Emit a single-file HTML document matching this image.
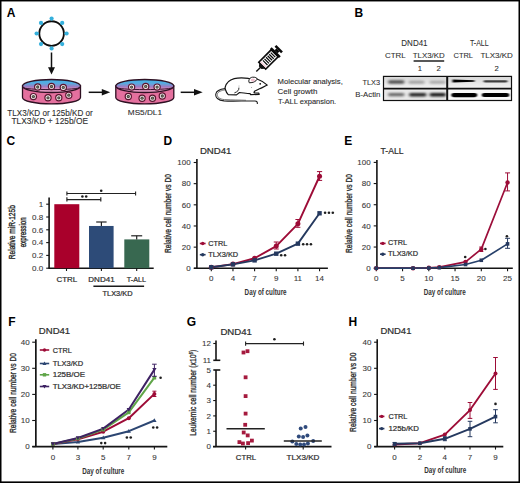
<!DOCTYPE html><html><head><meta charset="utf-8"><style>html,body{margin:0;padding:0;background:#fff;}svg{display:block;}text{font-family:"Liberation Sans", sans-serif;}</style></head><body>
<svg width="520" height="483" viewBox="0 0 520 483">
<defs><linearGradient id="lid" x1="0" y1="0" x2="0" y2="1"><stop offset="0" stop-color="#3fb2e6"/><stop offset="0.3" stop-color="#58abe0"/><stop offset="0.55" stop-color="#a07cc2"/><stop offset="0.72" stop-color="#d98cbb"/><stop offset="1" stop-color="#eaa0c4"/></linearGradient><linearGradient id="blot1" x1="0" y1="0" x2="0" y2="1"><stop offset="0" stop-color="#d8d8d8"/><stop offset="1" stop-color="#f2f2f2"/></linearGradient><filter id="bl" x="-20%" y="-100%" width="140%" height="300%"><feGaussianBlur stdDeviation="0.9 0.7"/></filter><filter id="bl2" x="-30%" y="-150%" width="160%" height="400%"><feGaussianBlur stdDeviation="1.6 1.0"/></filter></defs>
<rect x="0" y="0" width="520" height="483" fill="#fff"/>
<text x="6.7" y="16.9" font-size="12" font-weight="bold" fill="#000">A</text>
<circle cx="51.6" cy="33.5" r="12.3" fill="none" stroke="#0d0d0d" stroke-width="1.85"/>
<line x1="64.60" y1="33.50" x2="66.20" y2="33.50" stroke="#36b0dc" stroke-width="1.5"/>
<circle cx="66.60" cy="33.50" r="2.1" fill="#36b0dc"/>
<line x1="60.79" y1="42.69" x2="61.92" y2="43.82" stroke="#36b0dc" stroke-width="1.5"/>
<circle cx="62.21" cy="44.11" r="2.1" fill="#36b0dc"/>
<line x1="51.60" y1="46.50" x2="51.60" y2="48.10" stroke="#36b0dc" stroke-width="1.5"/>
<circle cx="51.60" cy="48.50" r="2.1" fill="#36b0dc"/>
<line x1="42.41" y1="42.69" x2="41.28" y2="43.82" stroke="#36b0dc" stroke-width="1.5"/>
<circle cx="40.99" cy="44.11" r="2.1" fill="#36b0dc"/>
<line x1="38.60" y1="33.50" x2="37.00" y2="33.50" stroke="#36b0dc" stroke-width="1.5"/>
<circle cx="36.60" cy="33.50" r="2.1" fill="#36b0dc"/>
<line x1="42.41" y1="24.31" x2="41.28" y2="23.18" stroke="#36b0dc" stroke-width="1.5"/>
<circle cx="40.99" cy="22.89" r="2.1" fill="#36b0dc"/>
<line x1="51.60" y1="20.50" x2="51.60" y2="18.90" stroke="#36b0dc" stroke-width="1.5"/>
<circle cx="51.60" cy="18.50" r="2.1" fill="#36b0dc"/>
<line x1="60.79" y1="24.31" x2="61.92" y2="23.18" stroke="#36b0dc" stroke-width="1.5"/>
<circle cx="62.21" cy="22.89" r="2.1" fill="#36b0dc"/>
<line x1="51.5" y1="52.5" x2="51.5" y2="68.5" stroke="#111" stroke-width="1.5"/>
<polygon points="48,67.2 55,67.2 51.5,74.6" fill="#111"/>
<path d="M22.5,86 L22.5,97.4 A29,6.5 0 0 0 80.5,97.4 L80.5,86 Z" fill="#e4709e" stroke="#2e1022" stroke-width="1.3"/>
<ellipse cx="51.5" cy="86" rx="29" ry="6.5" fill="url(#lid)" stroke="#2e1022" stroke-width="1.3"/>
<path d="M23.1,87.4 A28.4,2.2 0 0 0 79.9,87.4" fill="none" stroke="#3a1530" stroke-width="1.0"/>
<circle cx="37.70" cy="87.00" r="3.1" fill="#fbf3f3" stroke="#5a1530" stroke-width="1.2"/>
<circle cx="37.70" cy="87.00" r="1.65" fill="#4a4a44"/>
<circle cx="37.70" cy="87.00" r="0.6" fill="#8a8a70"/>
<circle cx="51.50" cy="86.50" r="3.1" fill="#fbf3f3" stroke="#5a1530" stroke-width="1.2"/>
<circle cx="51.50" cy="86.50" r="1.65" fill="#4a4a44"/>
<circle cx="51.50" cy="86.50" r="0.6" fill="#8a8a70"/>
<circle cx="63.30" cy="87.40" r="3.1" fill="#fbf3f3" stroke="#5a1530" stroke-width="1.2"/>
<circle cx="63.30" cy="87.40" r="1.65" fill="#4a4a44"/>
<circle cx="63.30" cy="87.40" r="0.6" fill="#8a8a70"/>
<circle cx="33.40" cy="96.60" r="3.1" fill="#fbf3f3" stroke="#5a1530" stroke-width="1.2"/>
<circle cx="33.40" cy="96.60" r="1.65" fill="#4a4a44"/>
<circle cx="33.40" cy="96.60" r="0.6" fill="#8a8a70"/>
<circle cx="48.00" cy="97.80" r="3.1" fill="#fbf3f3" stroke="#5a1530" stroke-width="1.2"/>
<circle cx="48.00" cy="97.80" r="1.65" fill="#4a4a44"/>
<circle cx="48.00" cy="97.80" r="0.6" fill="#8a8a70"/>
<circle cx="58.80" cy="97.80" r="3.1" fill="#fbf3f3" stroke="#5a1530" stroke-width="1.2"/>
<circle cx="58.80" cy="97.80" r="1.65" fill="#4a4a44"/>
<circle cx="58.80" cy="97.80" r="0.6" fill="#8a8a70"/>
<circle cx="68.80" cy="95.20" r="3.1" fill="#fbf3f3" stroke="#5a1530" stroke-width="1.2"/>
<circle cx="68.80" cy="95.20" r="1.65" fill="#4a4a44"/>
<circle cx="68.80" cy="95.20" r="0.6" fill="#8a8a70"/>
<path d="M115.80000000000001,86 L115.80000000000001,97.4 A29,6.5 0 0 0 173.8,97.4 L173.8,86 Z" fill="#e4709e" stroke="#2e1022" stroke-width="1.3"/>
<ellipse cx="144.8" cy="86" rx="29" ry="6.5" fill="url(#lid)" stroke="#2e1022" stroke-width="1.3"/>
<path d="M116.4,87.4 A28.4,2.2 0 0 0 173.20000000000002,87.4" fill="none" stroke="#3a1530" stroke-width="1.0"/>
<circle cx="131.60" cy="87.10" r="3.1" fill="#fbf3f3" stroke="#5a1530" stroke-width="1.2"/>
<circle cx="131.60" cy="87.10" r="1.65" fill="#4a4a44"/>
<circle cx="131.60" cy="87.10" r="0.6" fill="#8a8a70"/>
<circle cx="145.70" cy="86.40" r="3.1" fill="#fbf3f3" stroke="#5a1530" stroke-width="1.2"/>
<circle cx="145.70" cy="86.40" r="1.65" fill="#4a4a44"/>
<circle cx="145.70" cy="86.40" r="0.6" fill="#8a8a70"/>
<circle cx="157.10" cy="87.10" r="3.1" fill="#fbf3f3" stroke="#5a1530" stroke-width="1.2"/>
<circle cx="157.10" cy="87.10" r="1.65" fill="#4a4a44"/>
<circle cx="157.10" cy="87.10" r="0.6" fill="#8a8a70"/>
<circle cx="128.30" cy="96.50" r="3.1" fill="#fbf3f3" stroke="#5a1530" stroke-width="1.2"/>
<circle cx="128.30" cy="96.50" r="1.65" fill="#4a4a44"/>
<circle cx="128.30" cy="96.50" r="0.6" fill="#8a8a70"/>
<circle cx="142.10" cy="98.20" r="3.1" fill="#fbf3f3" stroke="#5a1530" stroke-width="1.2"/>
<circle cx="142.10" cy="98.20" r="1.65" fill="#4a4a44"/>
<circle cx="142.10" cy="98.20" r="0.6" fill="#8a8a70"/>
<circle cx="152.50" cy="98.20" r="3.1" fill="#fbf3f3" stroke="#5a1530" stroke-width="1.2"/>
<circle cx="152.50" cy="98.20" r="1.65" fill="#4a4a44"/>
<circle cx="152.50" cy="98.20" r="0.6" fill="#8a8a70"/>
<circle cx="162.30" cy="96.00" r="3.1" fill="#fbf3f3" stroke="#5a1530" stroke-width="1.2"/>
<circle cx="162.30" cy="96.00" r="1.65" fill="#4a4a44"/>
<circle cx="162.30" cy="96.00" r="0.6" fill="#8a8a70"/>
<text x="7.3" y="115.8" font-size="9" textLength="85.5" lengthAdjust="spacingAndGlyphs" fill="#2e2e2e" stroke="#2e2e2e" stroke-width="0.1">TLX3/KD or 125b/KD or</text>
<text x="11.5" y="124.4" font-size="9" textLength="76.5" lengthAdjust="spacingAndGlyphs" fill="#2e2e2e" stroke="#2e2e2e" stroke-width="0.1">TLX3/KD + 125b/OE</text>
<text x="127.8" y="114.9" font-size="8" textLength="34.2" lengthAdjust="spacingAndGlyphs" fill="#2e2e2e" stroke="#2e2e2e" stroke-width="0.1">MS5/DL1</text>
<line x1="88.7" y1="92.3" x2="103" y2="92.3" stroke="#111" stroke-width="1.5"/>
<polygon points="101.8,89 110.2,92.3 101.8,95.6" fill="#111"/>
<line x1="180.7" y1="92.3" x2="195" y2="92.3" stroke="#111" stroke-width="1.5"/>
<polygon points="194,89 202.7,92.3 194,95.6" fill="#111"/>
<path d="M225,88.6 C221,89 216.5,90.5 215.8,94 C215.2,97.5 218,100.2 224,100.9 C232,101.4 245,100.8 255,101 C257,101.2 257.6,102.2 257.3,104" fill="none" stroke="#1e1e1e" stroke-width="1.1"/>
<path d="M225.2,89.9 C221.5,90.4 217.8,91.6 217.3,94.3 C217,97 219.5,99.2 224.5,99.6 C232,100 240,100 246,100.3" fill="none" stroke="#555" stroke-width="0.8"/>
<path d="M225.1,87.5 C226,83.5 229.5,80 234.2,78.7 C238,77.8 244,77.9 248.5,78.4 L256.5,78.8 C260,80 264,82.5 267.3,85.1 C265,86.5 262,87.6 259.5,88.8 C257,90 255.5,90.8 254.5,91.3 L254,92.8 L258.8,93.2 L259.2,94.4 L250.5,94.7 L250.2,93.6 C247,93.5 243,92.8 239.5,92.5 L236.5,94.9 L228.2,94.6 C227,93.5 226.2,92 225.8,90.5 C225.3,89.5 225.1,88.5 225.1,87.5 Z" fill="#fff" stroke="#141414" stroke-width="1.2" stroke-linejoin="round"/>
<path d="M238.9,87.6 C239.2,90 237.6,91.8 234.4,92.9" fill="none" stroke="#141414" stroke-width="0.9"/>
<path d="M249.3,82.8 C248,80.5 249.5,77.5 252.5,77.2 C255,77 257.2,77.8 257.2,79.2 C256,81.5 253,82.8 249.3,82.8 Z" fill="#fff" stroke="#141414" stroke-width="1"/>
<ellipse cx="252.9" cy="80" rx="2.1" ry="1.5" fill="#f2c0d0"/>
<circle cx="260.2" cy="83.8" r="0.9" fill="#111"/>
<circle cx="239" cy="86" r="0.4" fill="#444"/>
<circle cx="251.5" cy="87.5" r="0.4" fill="#444"/>
<g transform="translate(256.3,71.6) rotate(-45)"><line x1="0" y1="0" x2="6.5" y2="0" stroke="#111" stroke-width="1.4"/><polygon points="5.5,-1.8 8.2,-4 8.2,4 5.5,1.8" fill="#111"/><rect x="8.4" y="-4.9" width="17.6" height="9.8" fill="#fff" stroke="#0a0a0a" stroke-width="1.6"/><rect x="9.3" y="-4" width="1.5" height="8" fill="#f3ccd8"/><line x1="12.6" y1="-3.2" x2="12.6" y2="3.2" stroke="#0a0a0a" stroke-width="1.25"/><line x1="14.8" y1="-3.2" x2="14.8" y2="3.2" stroke="#0a0a0a" stroke-width="1.25"/><line x1="17.0" y1="-3.2" x2="17.0" y2="3.2" stroke="#0a0a0a" stroke-width="1.25"/><line x1="19.2" y1="-3.2" x2="19.2" y2="3.2" stroke="#0a0a0a" stroke-width="1.25"/><line x1="21.4" y1="-3.2" x2="21.4" y2="3.2" stroke="#0a0a0a" stroke-width="1.25"/><line x1="23.6" y1="-3.2" x2="23.6" y2="3.2" stroke="#0a0a0a" stroke-width="1.25"/><rect x="25.6" y="-6.4" width="2.6" height="12.8" fill="#0a0a0a"/><rect x="28" y="-2.2" width="2.6" height="4.4" fill="#0a0a0a"/><rect x="30.4" y="-4.6" width="2.6" height="9.2" fill="#0a0a0a"/></g>
<text x="277.6" y="84.4" font-size="8" textLength="65.2" lengthAdjust="spacingAndGlyphs" fill="#2e2e2e" stroke="#2e2e2e" stroke-width="0.12">Molecular analysis,</text>
<text x="277.6" y="93.8" font-size="8" textLength="39.8" lengthAdjust="spacingAndGlyphs" fill="#2e2e2e" stroke="#2e2e2e" stroke-width="0.12">Cell growth</text>
<text x="277.9" y="104.2" font-size="8" textLength="58.3" lengthAdjust="spacingAndGlyphs" fill="#2e2e2e" stroke="#2e2e2e" stroke-width="0.12">T-ALL expansion.</text>
<text x="354.4" y="16.9" font-size="12" font-weight="bold" fill="#000">B</text>
<text x="401.3" y="46.4" font-size="8.3" textLength="26.3" lengthAdjust="spacingAndGlyphs" fill="#2e2e2e" stroke="#2e2e2e" stroke-width="0.08">DND41</text>
<text x="469.9" y="46.4" font-size="8.3" textLength="18.8" lengthAdjust="spacingAndGlyphs" fill="#2e2e2e" stroke="#2e2e2e" stroke-width="0.08">T-ALL</text>
<text x="385.0" y="57.9" font-size="8.1" textLength="20.6" lengthAdjust="spacingAndGlyphs" fill="#2e2e2e" stroke="#2e2e2e" stroke-width="0.08">CTRL</text>
<text x="412.8" y="57.9" font-size="8.1" textLength="31.9" lengthAdjust="spacingAndGlyphs" fill="#2e2e2e" stroke="#2e2e2e" stroke-width="0.08">TLX3/KD</text>
<text x="453.5" y="57.9" font-size="8.1" textLength="19.5" lengthAdjust="spacingAndGlyphs" fill="#2e2e2e" stroke="#2e2e2e" stroke-width="0.08">CTRL</text>
<text x="480.4" y="57.9" font-size="8.1" textLength="32.5" lengthAdjust="spacingAndGlyphs" fill="#2e2e2e" stroke="#2e2e2e" stroke-width="0.08">TLX3/KD</text>
<line x1="413.6" y1="61" x2="444.2" y2="61" stroke="#111" stroke-width="1.4"/>
<text x="417.8" y="71.1" font-size="7.7" fill="#2e2e2e" stroke="#2e2e2e" stroke-width="0.08">1</text>
<text x="436.5" y="71.1" font-size="7.7" fill="#2e2e2e" stroke="#2e2e2e" stroke-width="0.08">2</text>
<text x="494.5" y="71.1" font-size="7.7" fill="#2e2e2e" stroke="#2e2e2e" stroke-width="0.08">2</text>
<text x="362.5" y="84.8" font-size="7.9" textLength="17.6" lengthAdjust="spacingAndGlyphs" fill="#2e2e2e" stroke="#2e2e2e" stroke-width="0.08">TLX3</text>
<text x="355.2" y="96.9" font-size="7.9" textLength="25.3" lengthAdjust="spacingAndGlyphs" fill="#2e2e2e" stroke="#2e2e2e" stroke-width="0.08">B-Actin</text>
<rect x="383.5" y="76.4" width="128" height="11.6" fill="url(#blot1)"/>
<rect x="448" y="76.4" width="63.5" height="11.6" fill="url(#blot1)"/>
<rect x="383.5" y="89.3" width="63" height="11.2" fill="#e9e9e9"/>
<rect x="448" y="89.3" width="63.5" height="11.2" fill="#fafafa"/>
<rect x="388.00" y="80.30" width="16.50" height="3.4" rx="1.70" ry="1.70" fill="#000" opacity="0.65" filter="url(#bl2)"/>
<rect x="408.50" y="80.80" width="16.00" height="3.0" rx="1.50" ry="1.50" fill="#000" opacity="0.3" filter="url(#bl2)"/>
<rect x="429.50" y="80.80" width="16.00" height="3.0" rx="1.50" ry="1.50" fill="#000" opacity="0.26" filter="url(#bl2)"/>
<polygon points="452.5,79.6 474.5,80.3 474.5,81.7 452.5,82.6" fill="#000" filter="url(#bl)"/>
<rect x="483.50" y="80.20" width="24.00" height="2.2" rx="1.10" ry="1.10" fill="#000" opacity="0.72" filter="url(#bl)"/>
<rect x="388.00" y="92.90" width="16.50" height="3.4" rx="1.70" ry="1.70" fill="#000" opacity="0.55" filter="url(#bl2)"/>
<rect x="409.00" y="93.00" width="17.50" height="3.6" rx="1.80" ry="1.80" fill="#000" opacity="0.85" filter="url(#bl2)"/>
<rect x="429.50" y="93.00" width="16.50" height="3.6" rx="1.80" ry="1.80" fill="#000" opacity="0.9" filter="url(#bl2)"/>
<rect x="451.50" y="93.00" width="25.50" height="4.2" rx="2.10" ry="2.10" fill="#000" opacity="1.0" filter="url(#bl)"/>
<rect x="482.00" y="93.10" width="27.00" height="4.0" rx="2.00" ry="2.00" fill="#000" opacity="1.0" filter="url(#bl)"/>
<rect x="452.50" y="93.80" width="23.50" height="2.6" rx="1.30" ry="1.30" fill="#000" opacity="1.0" filter="url(#bl)"/>
<rect x="483.00" y="93.80" width="25.00" height="2.6" rx="1.30" ry="1.30" fill="#000" opacity="1.0" filter="url(#bl)"/>
<rect x="383.5" y="76.4" width="128" height="24.1" fill="none" stroke="#111" stroke-width="1.2"/>
<line x1="383.5" y1="88.6" x2="511.5" y2="88.6" stroke="#111" stroke-width="1.8"/>
<line x1="447.2" y1="76" x2="447.2" y2="101" stroke="#111" stroke-width="2.0"/>
<text x="6.6" y="145.4" font-size="12" font-weight="bold" fill="#000">C</text>
<line x1="49.1" y1="197.5" x2="49.1" y2="268.2" stroke="#151515" stroke-width="1.6"/>
<line x1="48.5" y1="268.2" x2="153.7" y2="268.2" stroke="#151515" stroke-width="1.6"/>
<line x1="46.2" y1="268.2" x2="49.1" y2="268.2" stroke="#151515" stroke-width="1.1"/>
<text x="43.2" y="271.0" font-size="8" text-anchor="end" fill="#3a3a3a" stroke="#3a3a3a" stroke-width="0.1">0.0</text>
<line x1="46.2" y1="255.39999999999998" x2="49.1" y2="255.39999999999998" stroke="#151515" stroke-width="1.1"/>
<text x="43.2" y="258.2" font-size="8" text-anchor="end" fill="#3a3a3a" stroke="#3a3a3a" stroke-width="0.1">0.2</text>
<line x1="46.2" y1="242.6" x2="49.1" y2="242.6" stroke="#151515" stroke-width="1.1"/>
<text x="43.2" y="245.4" font-size="8" text-anchor="end" fill="#3a3a3a" stroke="#3a3a3a" stroke-width="0.1">0.4</text>
<line x1="46.2" y1="229.79999999999998" x2="49.1" y2="229.79999999999998" stroke="#151515" stroke-width="1.1"/>
<text x="43.2" y="232.6" font-size="8" text-anchor="end" fill="#3a3a3a" stroke="#3a3a3a" stroke-width="0.1">0.6</text>
<line x1="46.2" y1="217.0" x2="49.1" y2="217.0" stroke="#151515" stroke-width="1.1"/>
<text x="43.2" y="219.8" font-size="8" text-anchor="end" fill="#3a3a3a" stroke="#3a3a3a" stroke-width="0.1">0.8</text>
<line x1="46.2" y1="204.2" x2="49.1" y2="204.2" stroke="#151515" stroke-width="1.1"/>
<text x="43.2" y="207.0" font-size="8" text-anchor="end" fill="#3a3a3a" stroke="#3a3a3a" stroke-width="0.1">1</text>
<rect x="54.3" y="204.20" width="25" height="64.00" fill="#a9002b"/>
<rect x="89.0" y="225.96" width="24.6" height="42.24" fill="#2d4b78"/>
<rect x="124.3" y="239.40" width="25" height="28.80" fill="#386850"/>
<line x1="101.4" y1="222" x2="101.4" y2="225.95999999999998" stroke="#222" stroke-width="1.2"/>
<line x1="96.2" y1="222" x2="106.6" y2="222" stroke="#222" stroke-width="1.2"/>
<line x1="136.7" y1="235.8" x2="136.7" y2="239.39999999999998" stroke="#222" stroke-width="1.2"/>
<line x1="131.2" y1="235.8" x2="142.2" y2="235.8" stroke="#222" stroke-width="1.2"/>
<line x1="66.5" y1="268.2" x2="66.5" y2="271" stroke="#151515" stroke-width="1.1"/>
<line x1="101.4" y1="268.2" x2="101.4" y2="271" stroke="#151515" stroke-width="1.1"/>
<line x1="136.7" y1="268.2" x2="136.7" y2="271" stroke="#151515" stroke-width="1.1"/>
<line x1="66.9" y1="193.5" x2="135.6" y2="193.5" stroke="#222" stroke-width="1.1"/>
<line x1="66.9" y1="191.5" x2="66.9" y2="195.5" stroke="#222" stroke-width="1.1"/>
<line x1="135.6" y1="191.5" x2="135.6" y2="195.5" stroke="#222" stroke-width="1.1"/>
<line x1="66.9" y1="199.6" x2="100.8" y2="199.6" stroke="#222" stroke-width="1.2"/>
<line x1="66.9" y1="197.3" x2="66.9" y2="201.6" stroke="#222" stroke-width="1.2"/>
<line x1="100.8" y1="197.3" x2="100.8" y2="201.6" stroke="#222" stroke-width="1.2"/>
<circle cx="101.20" cy="190.80" r="1.3" fill="#1e1e1e"/>
<circle cx="82.40" cy="196.50" r="1.3" fill="#1e1e1e"/>
<circle cx="86.20" cy="196.50" r="1.3" fill="#1e1e1e"/>
<text x="56.5" y="281.9" font-size="7.5" textLength="20.8" lengthAdjust="spacingAndGlyphs" fill="#2e2e2e" stroke="#2e2e2e" stroke-width="0.22">CTRL</text>
<text x="88.3" y="281.9" font-size="7.5" textLength="26.3" lengthAdjust="spacingAndGlyphs" fill="#2e2e2e" stroke="#2e2e2e" stroke-width="0.22">DND41</text>
<text x="126.8" y="281.9" font-size="7.5" textLength="19.2" lengthAdjust="spacingAndGlyphs" fill="#2e2e2e" stroke="#2e2e2e" stroke-width="0.22">T-ALL</text>
<line x1="93.4" y1="286.3" x2="144.1" y2="286.3" stroke="#1a1a1a" stroke-width="1.4"/>
<text x="102.5" y="295.7" font-size="7.5" textLength="30" lengthAdjust="spacingAndGlyphs" fill="#2e2e2e" stroke="#2e2e2e" stroke-width="0.22">TLX3/KD</text>
<text transform="translate(14.9,232.2) rotate(-90)" x="0" y="0" font-size="9.6" text-anchor="middle" textLength="54" lengthAdjust="spacingAndGlyphs" stroke="#2e2e2e" stroke-width="0.4" fill="#2e2e2e">Relative miR-125b</text>
<text transform="translate(25.8,232.3) rotate(-90)" x="0" y="0" font-size="8.6" text-anchor="middle" textLength="30" lengthAdjust="spacingAndGlyphs" stroke="#2e2e2e" stroke-width="0.4" fill="#2e2e2e">expression</text>
<text x="163.6" y="145.4" font-size="12" font-weight="bold" fill="#000">D</text>
<text x="199.9" y="153.8" font-size="9" textLength="31.6" lengthAdjust="spacingAndGlyphs" fill="#2e2e2e" stroke="#2e2e2e" stroke-width="0.22">DND41</text>
<line x1="196.9" y1="159.0" x2="196.9" y2="268.3" stroke="#151515" stroke-width="1.6"/>
<line x1="193.9" y1="268.3" x2="327.9" y2="268.3" stroke="#151515" stroke-width="1.6"/>
<line x1="193.70000000000002" y1="268.3" x2="196.9" y2="268.3" stroke="#151515" stroke-width="1.1"/>
<text x="190.6" y="271.1" font-size="8" text-anchor="end" fill="#3a3a3a" stroke="#3a3a3a" stroke-width="0.1">0</text>
<line x1="193.70000000000002" y1="247.14000000000001" x2="196.9" y2="247.14000000000001" stroke="#151515" stroke-width="1.1"/>
<text x="190.6" y="249.94000000000003" font-size="8" text-anchor="end" fill="#3a3a3a" stroke="#3a3a3a" stroke-width="0.1">20</text>
<line x1="193.70000000000002" y1="225.98000000000002" x2="196.9" y2="225.98000000000002" stroke="#151515" stroke-width="1.1"/>
<text x="190.6" y="228.78000000000003" font-size="8" text-anchor="end" fill="#3a3a3a" stroke="#3a3a3a" stroke-width="0.1">40</text>
<line x1="193.70000000000002" y1="204.82" x2="196.9" y2="204.82" stroke="#151515" stroke-width="1.1"/>
<text x="190.6" y="207.62" font-size="8" text-anchor="end" fill="#3a3a3a" stroke="#3a3a3a" stroke-width="0.1">60</text>
<line x1="193.70000000000002" y1="183.66000000000003" x2="196.9" y2="183.66000000000003" stroke="#151515" stroke-width="1.1"/>
<text x="190.6" y="186.46000000000004" font-size="8" text-anchor="end" fill="#3a3a3a" stroke="#3a3a3a" stroke-width="0.1">80</text>
<line x1="193.70000000000002" y1="162.5" x2="196.9" y2="162.5" stroke="#151515" stroke-width="1.1"/>
<text x="190.6" y="165.3" font-size="8" text-anchor="end" fill="#3a3a3a" stroke="#3a3a3a" stroke-width="0.1">100</text>
<line x1="211.3" y1="268.3" x2="211.3" y2="271.3" stroke="#151515" stroke-width="1.1"/>
<text x="211.3" y="280.9" font-size="8" text-anchor="middle" fill="#3a3a3a" stroke="#3a3a3a" stroke-width="0.1">0</text>
<line x1="232.95000000000002" y1="268.3" x2="232.95000000000002" y2="271.3" stroke="#151515" stroke-width="1.1"/>
<text x="232.95000000000002" y="280.9" font-size="8" text-anchor="middle" fill="#3a3a3a" stroke="#3a3a3a" stroke-width="0.1">4</text>
<line x1="254.60000000000002" y1="268.3" x2="254.60000000000002" y2="271.3" stroke="#151515" stroke-width="1.1"/>
<text x="254.60000000000002" y="280.9" font-size="8" text-anchor="middle" fill="#3a3a3a" stroke="#3a3a3a" stroke-width="0.1">7</text>
<line x1="276.25" y1="268.3" x2="276.25" y2="271.3" stroke="#151515" stroke-width="1.1"/>
<text x="276.25" y="280.9" font-size="8" text-anchor="middle" fill="#3a3a3a" stroke="#3a3a3a" stroke-width="0.1">9</text>
<line x1="297.9" y1="268.3" x2="297.9" y2="271.3" stroke="#151515" stroke-width="1.1"/>
<text x="297.9" y="280.9" font-size="8" text-anchor="middle" fill="#3a3a3a" stroke="#3a3a3a" stroke-width="0.1">11</text>
<line x1="319.55" y1="268.3" x2="319.55" y2="271.3" stroke="#151515" stroke-width="1.1"/>
<text x="319.55" y="280.9" font-size="8" text-anchor="middle" fill="#3a3a3a" stroke="#3a3a3a" stroke-width="0.1">14</text>
<polyline points="211.30,267.24 232.95,264.07 254.60,258.25 276.25,246.08 297.90,223.86 319.55,176.25" fill="none" stroke="#9d0c37" stroke-width="1.9" stroke-linejoin="round"/>
<polyline points="211.30,267.24 232.95,264.39 254.60,260.37 276.25,253.70 297.90,243.65 319.55,213.28" fill="none" stroke="#25395f" stroke-width="1.9" stroke-linejoin="round"/>
<circle cx="211.30" cy="267.24" r="2.5" fill="#9d0c37"/>
<circle cx="232.95" cy="264.07" r="2.5" fill="#9d0c37"/>
<circle cx="254.60" cy="258.25" r="2.5" fill="#9d0c37"/>
<circle cx="276.25" cy="246.08" r="2.5" fill="#9d0c37"/>
<circle cx="297.90" cy="223.86" r="2.5" fill="#9d0c37"/>
<circle cx="319.55" cy="176.25" r="2.5" fill="#9d0c37"/>
<rect x="209.10" y="265.04" width="4.4" height="4.4" fill="#25395f"/>
<rect x="230.75" y="262.19" width="4.4" height="4.4" fill="#25395f"/>
<rect x="252.40" y="258.17" width="4.4" height="4.4" fill="#25395f"/>
<rect x="274.05" y="251.50" width="4.4" height="4.4" fill="#25395f"/>
<rect x="295.70" y="241.45" width="4.4" height="4.4" fill="#25395f"/>
<rect x="317.35" y="211.08" width="4.4" height="4.4" fill="#25395f"/>
<line x1="276.25" y1="242" x2="276.25" y2="249" stroke="#9d0c37" stroke-width="1.0"/>
<line x1="273.75" y1="242" x2="278.75" y2="242" stroke="#9d0c37" stroke-width="1.0"/>
<line x1="273.75" y1="249" x2="278.75" y2="249" stroke="#9d0c37" stroke-width="1.0"/>
<line x1="297.9" y1="219.5" x2="297.9" y2="227.3" stroke="#9d0c37" stroke-width="1.0"/>
<line x1="295.4" y1="219.5" x2="300.4" y2="219.5" stroke="#9d0c37" stroke-width="1.0"/>
<line x1="295.4" y1="227.3" x2="300.4" y2="227.3" stroke="#9d0c37" stroke-width="1.0"/>
<line x1="319.55" y1="171.6" x2="319.55" y2="180.4" stroke="#9d0c37" stroke-width="1.0"/>
<line x1="316.95" y1="171.6" x2="322.15000000000003" y2="171.6" stroke="#9d0c37" stroke-width="1.0"/>
<line x1="316.95" y1="180.4" x2="322.15000000000003" y2="180.4" stroke="#9d0c37" stroke-width="1.0"/>
<circle cx="281.20" cy="255.20" r="1.3" fill="#1e1e1e"/>
<circle cx="285.05" cy="255.20" r="1.3" fill="#1e1e1e"/>
<circle cx="303.20" cy="244.20" r="1.3" fill="#1e1e1e"/>
<circle cx="307.05" cy="244.20" r="1.3" fill="#1e1e1e"/>
<circle cx="310.90" cy="244.20" r="1.3" fill="#1e1e1e"/>
<circle cx="325.10" cy="212.80" r="1.3" fill="#1e1e1e"/>
<circle cx="328.95" cy="212.80" r="1.3" fill="#1e1e1e"/>
<circle cx="332.80" cy="212.80" r="1.3" fill="#1e1e1e"/>
<line x1="199.8" y1="243.5" x2="205.6" y2="243.5" stroke="#9d0c37" stroke-width="1.6"/>
<circle cx="202.70" cy="243.50" r="1.7" fill="#9d0c37"/>
<line x1="199.8" y1="254.7" x2="205.6" y2="254.7" stroke="#25395f" stroke-width="1.6"/>
<circle cx="202.70" cy="254.70" r="1.7" fill="#25395f"/>
<text x="208.2" y="245.9" font-size="7.7" textLength="19" lengthAdjust="spacingAndGlyphs" fill="#2e2e2e" stroke="#2e2e2e" stroke-width="0.22">CTRL</text>
<text x="208.2" y="256.9" font-size="7.7" textLength="30" lengthAdjust="spacingAndGlyphs" fill="#2e2e2e" stroke="#2e2e2e" stroke-width="0.22">TLX3/KD</text>
<text x="244.6" y="294.8" font-size="8.6" textLength="42" lengthAdjust="spacingAndGlyphs" font-weight="bold" fill="#333">Day of culture</text>
<text transform="translate(170.9,213.5) rotate(-90)" x="0" y="0" font-size="9.4" text-anchor="middle" textLength="79" lengthAdjust="spacingAndGlyphs" stroke="#2e2e2e" stroke-width="0.35" fill="#2e2e2e">Relative cell number vs D0</text>
<text x="344.2" y="145.4" font-size="12" font-weight="bold" fill="#000">E</text>
<text x="380.5" y="153.8" font-size="9" textLength="23" lengthAdjust="spacingAndGlyphs" fill="#2e2e2e" stroke="#2e2e2e" stroke-width="0.22">T-ALL</text>
<line x1="376.9" y1="160" x2="376.9" y2="268.2" stroke="#151515" stroke-width="1.6"/>
<line x1="373.9" y1="268.2" x2="512.8" y2="268.2" stroke="#151515" stroke-width="1.6"/>
<line x1="373.7" y1="268.2" x2="376.9" y2="268.2" stroke="#151515" stroke-width="1.1"/>
<text x="370.6" y="271.0" font-size="8" text-anchor="end" fill="#3a3a3a" stroke="#3a3a3a" stroke-width="0.1">0</text>
<line x1="373.7" y1="247.04" x2="376.9" y2="247.04" stroke="#151515" stroke-width="1.1"/>
<text x="370.6" y="249.84" font-size="8" text-anchor="end" fill="#3a3a3a" stroke="#3a3a3a" stroke-width="0.1">20</text>
<line x1="373.7" y1="225.88" x2="376.9" y2="225.88" stroke="#151515" stroke-width="1.1"/>
<text x="370.6" y="228.68" font-size="8" text-anchor="end" fill="#3a3a3a" stroke="#3a3a3a" stroke-width="0.1">40</text>
<line x1="373.7" y1="204.71999999999997" x2="376.9" y2="204.71999999999997" stroke="#151515" stroke-width="1.1"/>
<text x="370.6" y="207.51999999999998" font-size="8" text-anchor="end" fill="#3a3a3a" stroke="#3a3a3a" stroke-width="0.1">60</text>
<line x1="373.7" y1="183.56" x2="376.9" y2="183.56" stroke="#151515" stroke-width="1.1"/>
<text x="370.6" y="186.36" font-size="8" text-anchor="end" fill="#3a3a3a" stroke="#3a3a3a" stroke-width="0.1">80</text>
<line x1="373.7" y1="162.39999999999998" x2="376.9" y2="162.39999999999998" stroke="#151515" stroke-width="1.1"/>
<text x="370.6" y="165.2" font-size="8" text-anchor="end" fill="#3a3a3a" stroke="#3a3a3a" stroke-width="0.1">100</text>
<line x1="376.3" y1="268.2" x2="376.3" y2="271.2" stroke="#151515" stroke-width="1.1"/>
<text x="376.3" y="280.9" font-size="8" text-anchor="middle" fill="#3a3a3a" stroke="#3a3a3a" stroke-width="0.1">0</text>
<line x1="402.55" y1="268.2" x2="402.55" y2="271.2" stroke="#151515" stroke-width="1.1"/>
<text x="402.55" y="280.9" font-size="8" text-anchor="middle" fill="#3a3a3a" stroke="#3a3a3a" stroke-width="0.1">5</text>
<line x1="428.8" y1="268.2" x2="428.8" y2="271.2" stroke="#151515" stroke-width="1.1"/>
<text x="428.8" y="280.9" font-size="8" text-anchor="middle" fill="#3a3a3a" stroke="#3a3a3a" stroke-width="0.1">10</text>
<line x1="455.05" y1="268.2" x2="455.05" y2="271.2" stroke="#151515" stroke-width="1.1"/>
<text x="455.05" y="280.9" font-size="8" text-anchor="middle" fill="#3a3a3a" stroke="#3a3a3a" stroke-width="0.1">15</text>
<line x1="481.3" y1="268.2" x2="481.3" y2="271.2" stroke="#151515" stroke-width="1.1"/>
<text x="481.3" y="280.9" font-size="8" text-anchor="middle" fill="#3a3a3a" stroke="#3a3a3a" stroke-width="0.1">20</text>
<line x1="507.55" y1="268.2" x2="507.55" y2="271.2" stroke="#151515" stroke-width="1.1"/>
<text x="507.55" y="280.9" font-size="8" text-anchor="middle" fill="#3a3a3a" stroke="#3a3a3a" stroke-width="0.1">25</text>
<polyline points="376.30,268.20 413.05,268.20 428.80,267.78 439.30,267.14 465.55,261.85 481.30,249.16 507.55,182.50" fill="none" stroke="#9c0e3a" stroke-width="1.7" stroke-linejoin="round"/>
<polyline points="376.30,268.20 413.05,268.20 428.80,267.99 439.30,267.67 465.55,264.50 481.30,260.26 507.55,243.87" fill="none" stroke="#27406a" stroke-width="1.7" stroke-linejoin="round"/>
<circle cx="376.30" cy="268.20" r="2.2" fill="#9d0c37"/>
<circle cx="413.05" cy="268.20" r="2.2" fill="#9d0c37"/>
<circle cx="428.80" cy="267.78" r="2.2" fill="#9d0c37"/>
<circle cx="439.30" cy="267.14" r="2.2" fill="#9d0c37"/>
<circle cx="465.55" cy="261.85" r="2.2" fill="#9d0c37"/>
<circle cx="481.30" cy="249.16" r="2.2" fill="#9d0c37"/>
<circle cx="507.55" cy="182.50" r="2.2" fill="#9d0c37"/>
<rect x="374.50" y="266.40" width="3.6" height="3.6" fill="#25395f"/>
<rect x="411.25" y="266.40" width="3.6" height="3.6" fill="#25395f"/>
<rect x="427.00" y="266.19" width="3.6" height="3.6" fill="#25395f"/>
<rect x="437.50" y="265.87" width="3.6" height="3.6" fill="#25395f"/>
<rect x="463.75" y="262.70" width="3.6" height="3.6" fill="#25395f"/>
<rect x="479.50" y="258.46" width="3.6" height="3.6" fill="#25395f"/>
<rect x="505.75" y="242.07" width="3.6" height="3.6" fill="#25395f"/>
<line x1="507.55" y1="172.9" x2="507.55" y2="190.9" stroke="#9d0c37" stroke-width="1.0"/>
<line x1="505.05" y1="172.9" x2="510.05" y2="172.9" stroke="#9d0c37" stroke-width="1.0"/>
<line x1="505.05" y1="190.9" x2="510.05" y2="190.9" stroke="#9d0c37" stroke-width="1.0"/>
<line x1="507.55" y1="238.3" x2="507.55" y2="248.3" stroke="#25395f" stroke-width="1.0"/>
<line x1="505.05" y1="238.3" x2="510.05" y2="238.3" stroke="#25395f" stroke-width="1.0"/>
<line x1="505.05" y1="248.3" x2="510.05" y2="248.3" stroke="#25395f" stroke-width="1.0"/>
<line x1="481.3" y1="247" x2="481.3" y2="251.5" stroke="#9d0c37" stroke-width="1.0"/>
<line x1="479.3" y1="247" x2="483.3" y2="247" stroke="#9d0c37" stroke-width="1.0"/>
<line x1="479.3" y1="251.5" x2="483.3" y2="251.5" stroke="#9d0c37" stroke-width="1.0"/>
<circle cx="465.20" cy="257.00" r="1.3" fill="#1e1e1e"/>
<circle cx="485.40" cy="249.00" r="1.3" fill="#1e1e1e"/>
<circle cx="506.90" cy="236.20" r="1.3" fill="#1e1e1e"/>
<line x1="380" y1="243.4" x2="385.6" y2="243.4" stroke="#9d0c37" stroke-width="1.6"/>
<circle cx="382.80" cy="243.40" r="1.7" fill="#9d0c37"/>
<line x1="380" y1="254.2" x2="385.6" y2="254.2" stroke="#25395f" stroke-width="1.6"/>
<circle cx="382.80" cy="254.20" r="1.7" fill="#25395f"/>
<text x="388.0" y="245.3" font-size="7.7" textLength="19" lengthAdjust="spacingAndGlyphs" fill="#2e2e2e" stroke="#2e2e2e" stroke-width="0.22">CTRL</text>
<text x="388.0" y="256.0" font-size="7.7" textLength="30" lengthAdjust="spacingAndGlyphs" fill="#2e2e2e" stroke="#2e2e2e" stroke-width="0.22">TLX3/KD</text>
<text x="423.8" y="294.8" font-size="8.6" textLength="42" lengthAdjust="spacingAndGlyphs" font-weight="bold" fill="#333">Day of culture</text>
<text transform="translate(351.7,213.5) rotate(-90)" x="0" y="0" font-size="9.4" text-anchor="middle" textLength="79" lengthAdjust="spacingAndGlyphs" stroke="#2e2e2e" stroke-width="0.35" fill="#2e2e2e">Relative cell number vs D0</text>
<text x="8.2" y="325.5" font-size="12" font-weight="bold" fill="#000">F</text>
<text x="38.8" y="333.8" font-size="9" textLength="31.4" lengthAdjust="spacingAndGlyphs" fill="#2e2e2e" stroke="#2e2e2e" stroke-width="0.22">DND41</text>
<line x1="35.85" y1="339.3" x2="35.85" y2="446.6" stroke="#151515" stroke-width="1.7"/>
<line x1="32.3" y1="446.6" x2="167.3" y2="446.6" stroke="#151515" stroke-width="1.7"/>
<line x1="32.2" y1="446.6" x2="35.85" y2="446.6" stroke="#151515" stroke-width="1.1"/>
<text x="29.6" y="449.40000000000003" font-size="8" text-anchor="end" fill="#3a3a3a" stroke="#3a3a3a" stroke-width="0.1">0</text>
<line x1="32.2" y1="420.5" x2="35.85" y2="420.5" stroke="#151515" stroke-width="1.1"/>
<text x="29.6" y="423.3" font-size="8" text-anchor="end" fill="#3a3a3a" stroke="#3a3a3a" stroke-width="0.1">10</text>
<line x1="32.2" y1="394.40000000000003" x2="35.85" y2="394.40000000000003" stroke="#151515" stroke-width="1.1"/>
<text x="29.6" y="397.20000000000005" font-size="8" text-anchor="end" fill="#3a3a3a" stroke="#3a3a3a" stroke-width="0.1">20</text>
<line x1="32.2" y1="368.3" x2="35.85" y2="368.3" stroke="#151515" stroke-width="1.1"/>
<text x="29.6" y="371.1" font-size="8" text-anchor="end" fill="#3a3a3a" stroke="#3a3a3a" stroke-width="0.1">30</text>
<line x1="32.2" y1="342.20000000000005" x2="35.85" y2="342.20000000000005" stroke="#151515" stroke-width="1.1"/>
<text x="29.6" y="345.00000000000006" font-size="8" text-anchor="end" fill="#3a3a3a" stroke="#3a3a3a" stroke-width="0.1">40</text>
<line x1="52.9" y1="446.6" x2="52.9" y2="449.6" stroke="#151515" stroke-width="1.1"/>
<text x="52.9" y="460.1" font-size="8" text-anchor="middle" fill="#3a3a3a" stroke="#3a3a3a" stroke-width="0.1">0</text>
<line x1="77.9" y1="446.6" x2="77.9" y2="449.6" stroke="#151515" stroke-width="1.1"/>
<text x="77.9" y="460.1" font-size="8" text-anchor="middle" fill="#3a3a3a" stroke="#3a3a3a" stroke-width="0.1">3</text>
<line x1="103.2" y1="446.6" x2="103.2" y2="449.6" stroke="#151515" stroke-width="1.1"/>
<text x="103.2" y="460.1" font-size="8" text-anchor="middle" fill="#3a3a3a" stroke="#3a3a3a" stroke-width="0.1">5</text>
<line x1="128.8" y1="446.6" x2="128.8" y2="449.6" stroke="#151515" stroke-width="1.1"/>
<text x="128.8" y="460.1" font-size="8" text-anchor="middle" fill="#3a3a3a" stroke="#3a3a3a" stroke-width="0.1">7</text>
<line x1="154.4" y1="446.6" x2="154.4" y2="449.6" stroke="#151515" stroke-width="1.1"/>
<text x="154.4" y="460.1" font-size="8" text-anchor="middle" fill="#3a3a3a" stroke="#3a3a3a" stroke-width="0.1">9</text>
<polyline points="52.90,443.99 77.90,441.90 103.20,437.73 128.80,431.20 154.40,420.50" fill="none" stroke="#2c4672" stroke-width="2.0" stroke-linejoin="round"/>
<polyline points="52.90,443.99 77.90,439.29 103.20,431.72 128.80,418.15 154.40,393.88" fill="none" stroke="#9d0c37" stroke-width="2.0" stroke-linejoin="round"/>
<polyline points="52.90,443.99 77.90,438.51 103.20,429.64 128.80,412.41 154.40,377.70" fill="none" stroke="#5fa548" stroke-width="2.0" stroke-linejoin="round"/>
<polyline points="52.90,443.99 77.90,437.99 103.20,428.59 128.80,409.54 154.40,369.61" fill="none" stroke="#3e2263" stroke-width="2.0" stroke-linejoin="round"/>
<polygon points="52.90,441.83 55.06,445.61 50.74,445.61" fill="#2c4672"/>
<polygon points="77.90,439.74 80.06,443.52 75.74,443.52" fill="#2c4672"/>
<polygon points="103.20,435.57 105.36,439.35 101.04,439.35" fill="#2c4672"/>
<polygon points="128.80,429.04 130.96,432.82 126.64,432.82" fill="#2c4672"/>
<polygon points="154.40,418.34 156.56,422.12 152.24,422.12" fill="#2c4672"/>
<circle cx="52.90" cy="443.99" r="2.0" fill="#9d0c37"/>
<circle cx="77.90" cy="439.29" r="2.0" fill="#9d0c37"/>
<circle cx="103.20" cy="431.72" r="2.0" fill="#9d0c37"/>
<circle cx="128.80" cy="418.15" r="2.0" fill="#9d0c37"/>
<circle cx="154.40" cy="393.88" r="2.0" fill="#9d0c37"/>
<rect x="51.10" y="442.19" width="3.6" height="3.6" fill="#5fa548"/>
<rect x="76.10" y="436.71" width="3.6" height="3.6" fill="#5fa548"/>
<rect x="101.40" y="427.84" width="3.6" height="3.6" fill="#5fa548"/>
<rect x="127.00" y="410.61" width="3.6" height="3.6" fill="#5fa548"/>
<rect x="152.60" y="375.90" width="3.6" height="3.6" fill="#5fa548"/>
<polygon points="52.90,446.15 55.06,442.37 50.74,442.37" fill="#3e2263"/>
<polygon points="77.90,440.15 80.06,436.37 75.74,436.37" fill="#3e2263"/>
<polygon points="103.20,430.75 105.36,426.97 101.04,426.97" fill="#3e2263"/>
<polygon points="128.80,411.70 130.96,407.92 126.64,407.92" fill="#3e2263"/>
<polygon points="154.40,371.77 156.56,367.99 152.24,367.99" fill="#3e2263"/>
<line x1="154.4" y1="364.2" x2="154.4" y2="376.3" stroke="#3e2263" stroke-width="1.0"/>
<line x1="152.1" y1="364.2" x2="156.70000000000002" y2="364.2" stroke="#3e2263" stroke-width="1.0"/>
<line x1="152.1" y1="376.3" x2="156.70000000000002" y2="376.3" stroke="#3e2263" stroke-width="1.0"/>
<line x1="154.4" y1="391.2" x2="154.4" y2="396.5" stroke="#9d0c37" stroke-width="1.0"/>
<line x1="152.4" y1="391.2" x2="156.4" y2="391.2" stroke="#9d0c37" stroke-width="1.0"/>
<line x1="152.4" y1="396.5" x2="156.4" y2="396.5" stroke="#9d0c37" stroke-width="1.0"/>
<circle cx="101.28" cy="443.10" r="1.3" fill="#1e1e1e"/>
<circle cx="105.12" cy="443.10" r="1.3" fill="#1e1e1e"/>
<circle cx="126.88" cy="437.50" r="1.3" fill="#1e1e1e"/>
<circle cx="130.73" cy="437.50" r="1.3" fill="#1e1e1e"/>
<circle cx="153.27" cy="427.50" r="1.3" fill="#1e1e1e"/>
<circle cx="157.12" cy="427.50" r="1.3" fill="#1e1e1e"/>
<circle cx="160.60" cy="377.70" r="1.3" fill="#1e1e1e"/>
<line x1="39.8" y1="350" x2="49.2" y2="350" stroke="#9d0c37" stroke-width="1.6"/>
<circle cx="44.50" cy="350.00" r="1.7" fill="#9d0c37"/>
<line x1="39.8" y1="363.5" x2="49.2" y2="363.5" stroke="#2c4672" stroke-width="1.6"/>
<polygon points="44.50,361.46 46.54,365.03 42.46,365.03" fill="#2c4672"/>
<line x1="39.8" y1="374.8" x2="49.2" y2="374.8" stroke="#5fa548" stroke-width="1.6"/>
<rect x="42.80" y="373.10" width="3.4" height="3.4" fill="#5fa548"/>
<line x1="39.8" y1="386.5" x2="49.2" y2="386.5" stroke="#3e2263" stroke-width="1.6"/>
<polygon points="44.50,388.54 46.54,384.97 42.46,384.97" fill="#3e2263"/>
<text x="52.7" y="352.6" font-size="7.7" textLength="19" lengthAdjust="spacingAndGlyphs" fill="#2e2e2e" stroke="#2e2e2e" stroke-width="0.22">CTRL</text>
<text x="52.7" y="366.1" font-size="7.7" textLength="30.6" lengthAdjust="spacingAndGlyphs" fill="#2e2e2e" stroke="#2e2e2e" stroke-width="0.22">TLX3/KD</text>
<text x="52.7" y="377.4" font-size="7.7" textLength="32.4" lengthAdjust="spacingAndGlyphs" fill="#2e2e2e" stroke="#2e2e2e" stroke-width="0.22">125B/OE</text>
<text x="52.7" y="389.1" font-size="7.7" textLength="68.1" lengthAdjust="spacingAndGlyphs" fill="#2e2e2e" stroke="#2e2e2e" stroke-width="0.22">TLX3/KD+125B/OE</text>
<text x="82.3" y="473.6" font-size="8.6" textLength="42" lengthAdjust="spacingAndGlyphs" font-weight="bold" fill="#333">Day of culture</text>
<text transform="translate(15.5,393) rotate(-90)" x="0" y="0" font-size="9.4" text-anchor="middle" textLength="80" lengthAdjust="spacingAndGlyphs" stroke="#2e2e2e" stroke-width="0.35" fill="#2e2e2e">Relative cell number vs D0</text>
<text x="186.8" y="325.6" font-size="12" font-weight="bold" fill="#000">G</text>
<text x="220.4" y="335.0" font-size="9" textLength="31.6" lengthAdjust="spacingAndGlyphs" fill="#2e2e2e" stroke="#2e2e2e" stroke-width="0.22">DND41</text>
<line x1="216" y1="340.5" x2="216" y2="360.3" stroke="#151515" stroke-width="1.6"/>
<line x1="213.3" y1="360.3" x2="220.3" y2="360.3" stroke="#151515" stroke-width="1.6"/>
<line x1="213.3" y1="343.5" x2="216" y2="343.5" stroke="#151515" stroke-width="1.1"/>
<text x="211" y="346.4" font-size="8" text-anchor="end" fill="#3a3a3a" stroke="#3a3a3a" stroke-width="0.1">12</text>
<text x="211" y="363.0" font-size="8" text-anchor="end" fill="#3a3a3a" stroke="#3a3a3a" stroke-width="0.1">11</text>
<line x1="216" y1="370.0" x2="216" y2="446.6" stroke="#151515" stroke-width="1.6"/>
<line x1="213.3" y1="370.0" x2="220.3" y2="370.0" stroke="#151515" stroke-width="1.6"/>
<line x1="213" y1="446.6" x2="331.5" y2="446.6" stroke="#151515" stroke-width="1.6"/>
<line x1="213.2" y1="446.6" x2="216" y2="446.6" stroke="#151515" stroke-width="1.1"/>
<line x1="213.2" y1="431.25" x2="216" y2="431.25" stroke="#151515" stroke-width="1.1"/>
<line x1="213.2" y1="415.90000000000003" x2="216" y2="415.90000000000003" stroke="#151515" stroke-width="1.1"/>
<line x1="213.2" y1="400.55" x2="216" y2="400.55" stroke="#151515" stroke-width="1.1"/>
<line x1="213.2" y1="385.20000000000005" x2="216" y2="385.20000000000005" stroke="#151515" stroke-width="1.1"/>
<text x="211" y="449.40000000000003" font-size="8" text-anchor="end" fill="#3a3a3a" stroke="#3a3a3a" stroke-width="0.1">0</text>
<text x="211" y="434.05" font-size="8" text-anchor="end" fill="#3a3a3a" stroke="#3a3a3a" stroke-width="0.1">1</text>
<text x="211" y="418.70000000000005" font-size="8" text-anchor="end" fill="#3a3a3a" stroke="#3a3a3a" stroke-width="0.1">2</text>
<text x="211" y="403.35" font-size="8" text-anchor="end" fill="#3a3a3a" stroke="#3a3a3a" stroke-width="0.1">3</text>
<text x="211" y="388.00000000000006" font-size="8" text-anchor="end" fill="#3a3a3a" stroke="#3a3a3a" stroke-width="0.1">4</text>
<text x="211" y="372.65000000000003" font-size="8" text-anchor="end" fill="#3a3a3a" stroke="#3a3a3a" stroke-width="0.1">5</text>
<line x1="245.6" y1="446.6" x2="245.6" y2="449.6" stroke="#151515" stroke-width="1.1"/>
<line x1="303.2" y1="446.6" x2="303.2" y2="449.6" stroke="#151515" stroke-width="1.1"/>
<rect x="241.60" y="350.60" width="3.8" height="3.8" fill="#a51a3e"/>
<rect x="245.60" y="349.30" width="3.8" height="3.8" fill="#a51a3e"/>
<rect x="243.70" y="375.40" width="3.8" height="3.8" fill="#a51a3e"/>
<rect x="243.70" y="394.20" width="3.8" height="3.8" fill="#a51a3e"/>
<rect x="243.70" y="411.70" width="3.8" height="3.8" fill="#a51a3e"/>
<rect x="243.30" y="422.90" width="3.8" height="3.8" fill="#a51a3e"/>
<rect x="241.80" y="430.60" width="3.8" height="3.8" fill="#a51a3e"/>
<rect x="245.80" y="433.50" width="3.8" height="3.8" fill="#a51a3e"/>
<rect x="237.50" y="440.20" width="3.8" height="3.8" fill="#a51a3e"/>
<rect x="241.00" y="441.60" width="3.8" height="3.8" fill="#a51a3e"/>
<rect x="246.20" y="441.20" width="3.8" height="3.8" fill="#a51a3e"/>
<rect x="250.00" y="438.70" width="3.8" height="3.8" fill="#a51a3e"/>
<circle cx="300.70" cy="428.50" r="2.0" fill="#2f4a7c"/>
<circle cx="305.50" cy="426.90" r="2.0" fill="#2f4a7c"/>
<circle cx="298.80" cy="436.50" r="2.0" fill="#2f4a7c"/>
<circle cx="303.10" cy="437.10" r="2.0" fill="#2f4a7c"/>
<circle cx="307.40" cy="435.60" r="2.0" fill="#2f4a7c"/>
<circle cx="292.30" cy="441.50" r="2.0" fill="#2f4a7c"/>
<circle cx="313.20" cy="441.00" r="2.0" fill="#2f4a7c"/>
<circle cx="296.30" cy="444.00" r="2.0" fill="#2f4a7c"/>
<circle cx="300.20" cy="444.50" r="2.0" fill="#2f4a7c"/>
<circle cx="304.00" cy="444.50" r="2.0" fill="#2f4a7c"/>
<circle cx="307.90" cy="443.50" r="2.0" fill="#2f4a7c"/>
<line x1="226.5" y1="428.7" x2="264.8" y2="428.7" stroke="#222" stroke-width="1.6"/>
<line x1="283.8" y1="441.0" x2="321.8" y2="441.0" stroke="#222" stroke-width="1.6"/>
<line x1="245.6" y1="343.6" x2="303.5" y2="343.6" stroke="#222" stroke-width="1.1"/>
<line x1="245.6" y1="341.5" x2="245.6" y2="345.7" stroke="#222" stroke-width="1.1"/>
<line x1="303.5" y1="341.5" x2="303.5" y2="345.7" stroke="#222" stroke-width="1.1"/>
<circle cx="274.40" cy="339.20" r="1.3" fill="#1e1e1e"/>
<text x="235.8" y="460.3" font-size="7.7" textLength="20.3" lengthAdjust="spacingAndGlyphs" fill="#2e2e2e" stroke="#2e2e2e" stroke-width="0.22">CTRL</text>
<text x="286.5" y="460.3" font-size="7.7" textLength="33" lengthAdjust="spacingAndGlyphs" fill="#2e2e2e" stroke="#2e2e2e" stroke-width="0.22">TLX3/KD</text>
<text transform="translate(195.9,392.8) rotate(-90)" font-size="9.4" text-anchor="middle" fill="#2e2e2e" stroke="#2e2e2e" stroke-width="0.35" textLength="86" lengthAdjust="spacingAndGlyphs">Leukemic cell number (x10<tspan font-size="6" dy="-3.2">6</tspan><tspan dy="3.2">)</tspan></text>
<text x="348.5" y="325.5" font-size="12" font-weight="bold" fill="#000">H</text>
<text x="380.4" y="333.8" font-size="9" textLength="31" lengthAdjust="spacingAndGlyphs" fill="#2e2e2e" stroke="#2e2e2e" stroke-width="0.22">DND41</text>
<line x1="377.2" y1="339.2" x2="377.2" y2="446.6" stroke="#151515" stroke-width="1.6"/>
<line x1="374.2" y1="446.6" x2="503.3" y2="446.6" stroke="#151515" stroke-width="1.6"/>
<line x1="374.1" y1="446.6" x2="377.2" y2="446.6" stroke="#151515" stroke-width="1.1"/>
<text x="371.4" y="449.40000000000003" font-size="8" text-anchor="end" fill="#3a3a3a" stroke="#3a3a3a" stroke-width="0.1">0</text>
<line x1="374.1" y1="420.5" x2="377.2" y2="420.5" stroke="#151515" stroke-width="1.1"/>
<text x="371.4" y="423.3" font-size="8" text-anchor="end" fill="#3a3a3a" stroke="#3a3a3a" stroke-width="0.1">10</text>
<line x1="374.1" y1="394.40000000000003" x2="377.2" y2="394.40000000000003" stroke="#151515" stroke-width="1.1"/>
<text x="371.4" y="397.20000000000005" font-size="8" text-anchor="end" fill="#3a3a3a" stroke="#3a3a3a" stroke-width="0.1">20</text>
<line x1="374.1" y1="368.3" x2="377.2" y2="368.3" stroke="#151515" stroke-width="1.1"/>
<text x="371.4" y="371.1" font-size="8" text-anchor="end" fill="#3a3a3a" stroke="#3a3a3a" stroke-width="0.1">30</text>
<line x1="374.1" y1="342.20000000000005" x2="377.2" y2="342.20000000000005" stroke="#151515" stroke-width="1.1"/>
<text x="371.4" y="345.00000000000006" font-size="8" text-anchor="end" fill="#3a3a3a" stroke="#3a3a3a" stroke-width="0.1">40</text>
<line x1="394.6" y1="446.6" x2="394.6" y2="449.6" stroke="#151515" stroke-width="1.1"/>
<text x="394.6" y="460.0" font-size="8" text-anchor="middle" fill="#3a3a3a" stroke="#3a3a3a" stroke-width="0.1">0</text>
<line x1="419.9" y1="446.6" x2="419.9" y2="449.6" stroke="#151515" stroke-width="1.1"/>
<text x="419.9" y="460.0" font-size="8" text-anchor="middle" fill="#3a3a3a" stroke="#3a3a3a" stroke-width="0.1">2</text>
<line x1="444.8" y1="446.6" x2="444.8" y2="449.6" stroke="#151515" stroke-width="1.1"/>
<text x="444.8" y="460.0" font-size="8" text-anchor="middle" fill="#3a3a3a" stroke="#3a3a3a" stroke-width="0.1">4</text>
<line x1="470.0" y1="446.6" x2="470.0" y2="449.6" stroke="#151515" stroke-width="1.1"/>
<text x="470.0" y="460.0" font-size="8" text-anchor="middle" fill="#3a3a3a" stroke="#3a3a3a" stroke-width="0.1">7</text>
<line x1="495.5" y1="446.6" x2="495.5" y2="449.6" stroke="#151515" stroke-width="1.1"/>
<text x="495.5" y="460.0" font-size="8" text-anchor="middle" fill="#3a3a3a" stroke="#3a3a3a" stroke-width="0.1">9</text>
<polyline points="394.60,444.51 419.90,443.21 444.80,434.59 470.00,410.06 495.50,373.52" fill="none" stroke="#9d0c37" stroke-width="1.9" stroke-linejoin="round"/>
<polyline points="394.60,443.73 419.90,443.21 444.80,438.77 470.00,428.85 495.50,416.59" fill="none" stroke="#25395f" stroke-width="1.9" stroke-linejoin="round"/>
<circle cx="394.60" cy="444.51" r="2.0" fill="#9d0c37"/>
<circle cx="419.90" cy="443.21" r="2.0" fill="#9d0c37"/>
<circle cx="444.80" cy="434.59" r="2.0" fill="#9d0c37"/>
<circle cx="470.00" cy="410.06" r="2.0" fill="#9d0c37"/>
<circle cx="495.50" cy="373.52" r="2.0" fill="#9d0c37"/>
<rect x="392.80" y="441.93" width="3.6" height="3.6" fill="#25395f"/>
<rect x="418.10" y="441.41" width="3.6" height="3.6" fill="#25395f"/>
<rect x="443.00" y="436.97" width="3.6" height="3.6" fill="#25395f"/>
<rect x="468.20" y="427.05" width="3.6" height="3.6" fill="#25395f"/>
<rect x="493.70" y="414.79" width="3.6" height="3.6" fill="#25395f"/>
<line x1="470.0" y1="402.5" x2="470.0" y2="418.4" stroke="#9d0c37" stroke-width="1.0"/>
<line x1="467.7" y1="402.5" x2="472.3" y2="402.5" stroke="#9d0c37" stroke-width="1.0"/>
<line x1="467.7" y1="418.4" x2="472.3" y2="418.4" stroke="#9d0c37" stroke-width="1.0"/>
<line x1="495.5" y1="357.5" x2="495.5" y2="389.4" stroke="#9d0c37" stroke-width="1.0"/>
<line x1="493.2" y1="357.5" x2="497.8" y2="357.5" stroke="#9d0c37" stroke-width="1.0"/>
<line x1="493.2" y1="389.4" x2="497.8" y2="389.4" stroke="#9d0c37" stroke-width="1.0"/>
<line x1="394.6" y1="442.5" x2="394.6" y2="445.4" stroke="#25395f" stroke-width="1.0"/>
<line x1="392.6" y1="442.5" x2="396.6" y2="442.5" stroke="#25395f" stroke-width="1.0"/>
<line x1="392.6" y1="445.4" x2="396.6" y2="445.4" stroke="#25395f" stroke-width="1.0"/>
<line x1="444.8" y1="436.7" x2="444.8" y2="440.7" stroke="#25395f" stroke-width="1.0"/>
<line x1="442.8" y1="436.7" x2="446.8" y2="436.7" stroke="#25395f" stroke-width="1.0"/>
<line x1="442.8" y1="440.7" x2="446.8" y2="440.7" stroke="#25395f" stroke-width="1.0"/>
<line x1="470.0" y1="421.3" x2="470.0" y2="436.7" stroke="#25395f" stroke-width="1.0"/>
<line x1="467.7" y1="421.3" x2="472.3" y2="421.3" stroke="#25395f" stroke-width="1.0"/>
<line x1="467.7" y1="436.7" x2="472.3" y2="436.7" stroke="#25395f" stroke-width="1.0"/>
<line x1="495.5" y1="409.7" x2="495.5" y2="422.8" stroke="#25395f" stroke-width="1.0"/>
<line x1="493.2" y1="409.7" x2="497.8" y2="409.7" stroke="#25395f" stroke-width="1.0"/>
<line x1="493.2" y1="422.8" x2="497.8" y2="422.8" stroke="#25395f" stroke-width="1.0"/>
<circle cx="495.50" cy="403.90" r="1.3" fill="#1e1e1e"/>
<line x1="379" y1="416.4" x2="384.4" y2="416.4" stroke="#9d0c37" stroke-width="1.6"/>
<circle cx="381.70" cy="416.40" r="1.7" fill="#9d0c37"/>
<line x1="379" y1="428.6" x2="384.4" y2="428.6" stroke="#25395f" stroke-width="1.6"/>
<circle cx="381.70" cy="428.60" r="1.7" fill="#25395f"/>
<text x="388.4" y="418.9" font-size="7.7" textLength="19" lengthAdjust="spacingAndGlyphs" fill="#2e2e2e" stroke="#2e2e2e" stroke-width="0.22">CTRL</text>
<text x="388.4" y="431.1" font-size="7.7" textLength="30.6" lengthAdjust="spacingAndGlyphs" fill="#2e2e2e" stroke="#2e2e2e" stroke-width="0.22">125b/KD</text>
<text x="424.3" y="473.0" font-size="8.6" textLength="42" lengthAdjust="spacingAndGlyphs" font-weight="bold" fill="#333">Day of culture</text>
<text transform="translate(355.6,392.2) rotate(-90)" x="0" y="0" font-size="9.4" text-anchor="middle" textLength="79.5" lengthAdjust="spacingAndGlyphs" stroke="#2e2e2e" stroke-width="0.35" fill="#2e2e2e">Relative cell number vs D0</text>
<rect x="0" y="0" width="520" height="1.45" fill="#000"/>
<rect x="0" y="0" width="1.5" height="483" fill="#000"/>
<rect x="518.5" y="0" width="1.5" height="483" fill="#000"/>
<rect x="0" y="481.4" width="520" height="1.6" fill="#000"/>
</svg></body></html>
